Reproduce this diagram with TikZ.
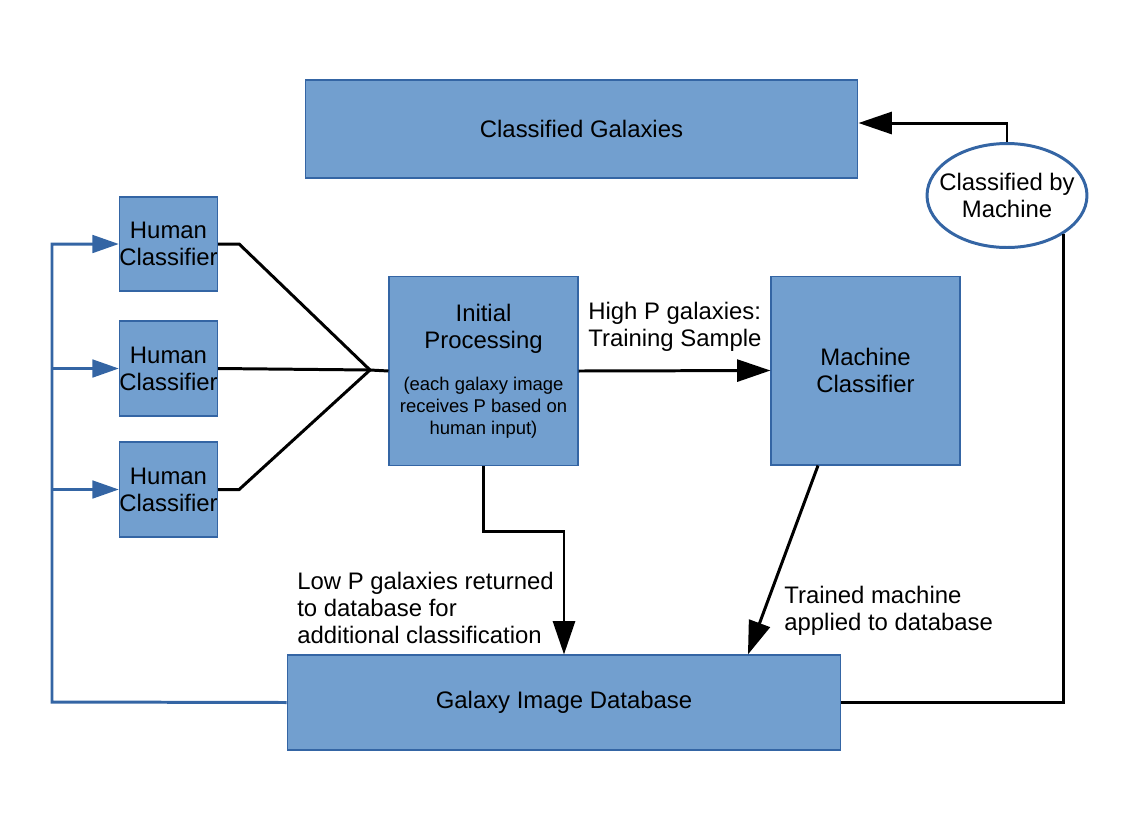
\documentclass[tikz,border=0pt]{standalone}
\usepackage{fontspec}
\setmainfont{Liberation Sans}
\usetikzlibrary{arrows.meta,shapes.geometric}

\definecolor{boxfill}{HTML}{729FCF}
\definecolor{boxline}{HTML}{3465A4}

\newcommand{\mainf}{\fontsize{13.6}{15.4}\selectfont}
\newcommand{\smallf}{\fontsize{10.5}{11.8}\selectfont}

\begin{document}
\begin{tikzpicture}[x=0.02cm, y=-0.02cm,
   stage/.style={draw=boxline, fill=boxfill, line width=0.6pt, inner sep=0pt,
      align=center, font=\mainf},
   lbl/.style={inner sep=0pt, align=left, font=\mainf, anchor=west},
   flow/.style={line width=1.7pt, -{Triangle[length=19pt,width=12.5pt]}},
   link/.style={line width=1.7pt},
   feed/.style={boxline, line width=1.7pt, -{Triangle[length=15pt,width=10pt]}}]

\useasboundingbox (0,0) rectangle (1134,816);

% boxes
\node (cg) [stage, minimum width=11.06cm, minimum height=1.96cm] at (581.5,129) {Classified Galaxies};
\node (hc1) [stage, minimum width=1.9cm, minimum height=1.88cm] at (168.5,244) {Human\\Classifier};
\node (hc2) [stage, minimum width=1.9cm, minimum height=1.9cm] at (168.5,368.5) {Human\\Classifier};
\node (hc3) [stage, minimum width=1.9cm, minimum height=1.9cm] at (168.5,489.5) {Human\\Classifier};
\node (proc) [stage, minimum width=3.78cm, minimum height=3.78cm] at (483.5,371)
   {Initial\\Processing\\[9pt]\smallf (each galaxy image\\[-3pt]\smallf receives P based on\\[-3pt]\smallf human input)};
\node (mach) [stage, minimum width=3.78cm, minimum height=3.78cm] at (865.5,370.5) {Machine\\Classifier};
\node (db) [stage, minimum width=11.08cm, minimum height=1.9cm] at (564,702.5) {Galaxy Image Database};
\node (ell) [ellipse, draw=boxline, fill=white, line width=1.7pt, inner xsep=-7pt, inner ysep=0pt,
   minimum width=3.2cm, minimum height=2.08cm, align=center, font=\mainf] at (1007,195.5)
   {Classified by\\Machine};

% human classifiers merge into processing
\coordinate (merge) at (370,370);
\draw[link] (hc1.east) -- ++(21,0) -- (merge);
\draw[link] (hc2.east) -- (merge);
\draw[link] (hc3.east) -- ++(21,0) -- (merge);
\draw[link] (merge) -- (proc.west);

% flow arrows
\draw[flow] (proc.east) -- (mach.west);
\draw[flow] (proc.south) -- ++(0,65) -| (db.north);
\draw[flow] ([xshift=-0.95cm]mach.south) -- ([xshift=3.68cm]db.north);
\draw[link] (db.east) -| (ell.-34);
\draw[flow] (ell.north) |- ([yshift=0.12cm]cg.east);

% feedback to human classifiers
\coordinate (bus) at (52,702);
\draw[feed] (db.west) -- (bus) |- (hc1.west);
\draw[feed] (hc2.west -| bus) -- (hc2.west);
\draw[feed] (hc3.west -| bus) -- (hc3.west);

% labels
\node (hilbl) [lbl] at (588,326.5) {High P galaxies:\\Training Sample};
\node (lowlbl) [lbl] at (297,608) {Low P galaxies returned\\to database for\\additional classification};
\node (trlbl) [lbl] at (784,610.5) {Trained machine\\applied to database};

\end{tikzpicture}
\end{document}
